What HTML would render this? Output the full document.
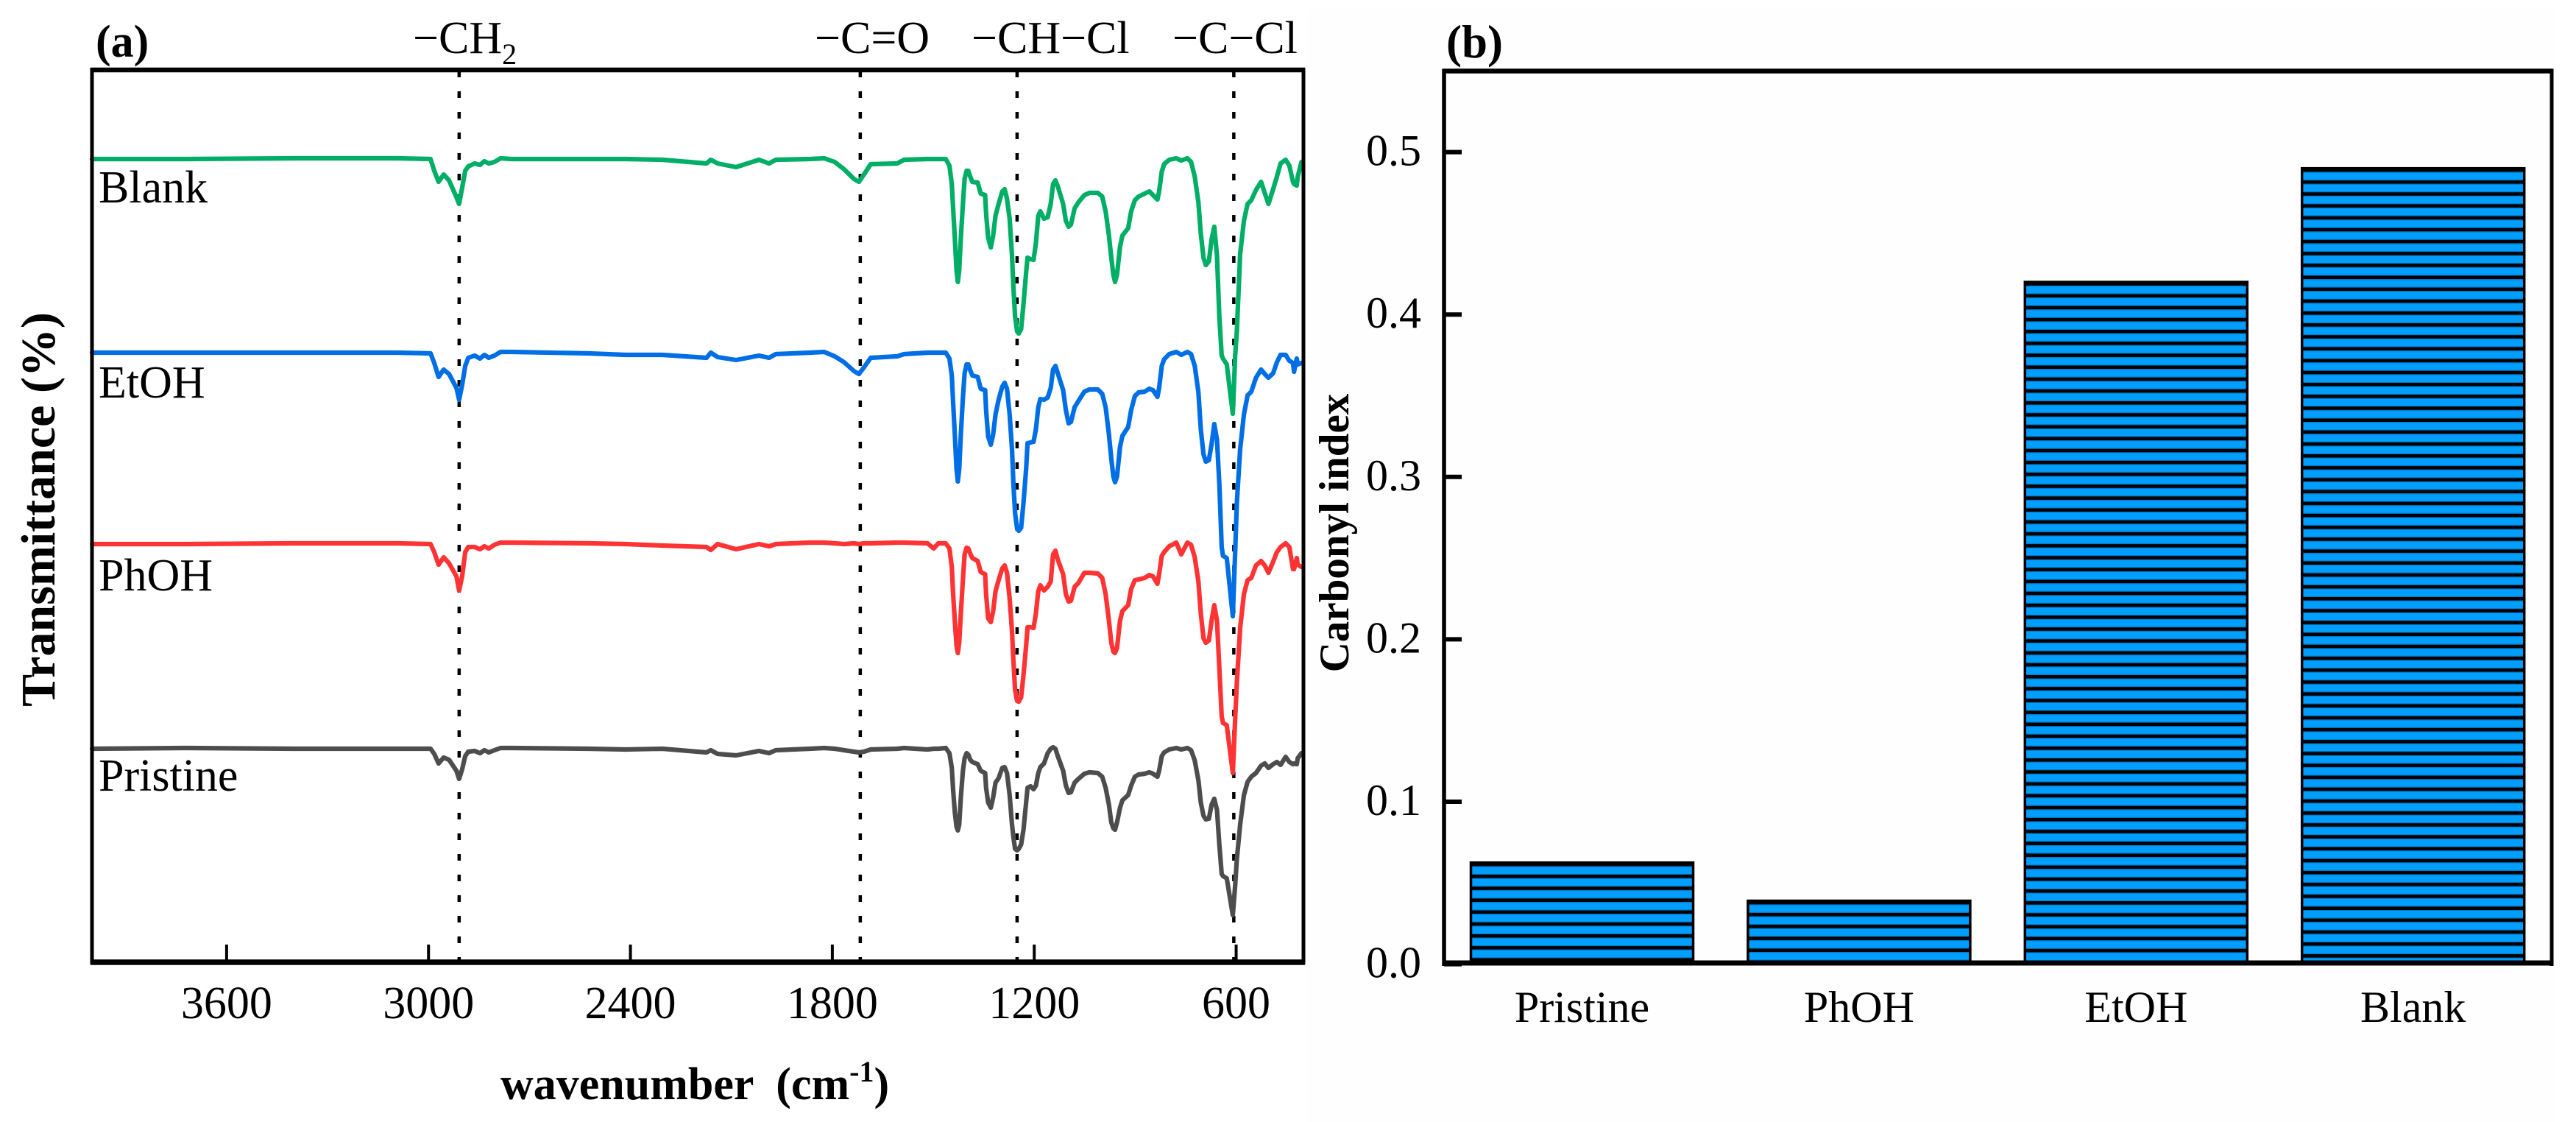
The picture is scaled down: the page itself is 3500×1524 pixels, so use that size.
<!DOCTYPE html>
<html lang="en">
<head>
<meta charset="utf-8">
<title>FTIR spectra and carbonyl index</title>
<style>
html,body{margin:0;padding:0;background:#fff;}
svg{display:block;}
text{font-family:"Liberation Serif","Times New Roman",serif;fill:#000;}
.b{font-weight:bold;}
</style>
</head>
<body>
<svg id="figure" xmlns="http://www.w3.org/2000/svg" width="3500" height="1524" viewBox="0 0 3500 1524">
  <rect x="0" y="0" width="3500" height="1524" fill="#ffffff"/>
  <rect x="1776" y="12" width="1696" height="1512" fill="#fefefe"/>
  <g id="panelA"></g>
  <g id="panelB"></g>

  <text class="b" x="130" y="77" font-size="62">(a)</text>
  <text class="b" x="1965" y="78" font-size="63">(b)</text>

  <text x="561" y="72" font-size="62">−CH<tspan font-size="40" dy="15">2</tspan></text>
  <text x="1107" y="72" font-size="62">−C=O</text>
  <text x="1320" y="72" font-size="62">−CH−Cl</text>
  <text x="1593" y="72" font-size="62">−C−Cl</text>

  <text x="134" y="275" font-size="62">Blank</text>
  <text x="134" y="540" font-size="62">EtOH</text>
  <text x="134" y="802" font-size="62">PhOH</text>
  <text x="134" y="1074" font-size="62">Pristine</text>

  <text class="b" x="680" y="1493" font-size="62" xml:space="preserve">wavenumber  (cm<tspan font-size="40" dy="-24">-1</tspan><tspan dy="24">)</tspan></text>
  <text class="b" text-anchor="middle" font-size="66" transform="translate(74,692) rotate(-90)">Transmittance (%)</text>
  <text class="b" text-anchor="middle" font-size="57" transform="translate(1832,724) rotate(-90)">Carbonyl index</text>
</svg>
<script>
const wavenumbers = [
4000,3727,3399,3092,2994,2983,2970,2955,2939,2917,2909,2900,2891,2882,2863,2847,2834,2821,2804,2786,2753,
2524,2414,2305,2174,2161,2141,2086,2018,1988,1968,1867,1824,1793,1765,1736,1721,1706,1686,1607,1587,
1517,1499,1485,1463,1452,1445,1441,1436,1431,1427,
1423,1418,1412,1407,1401,1396,1390,1384,1368,1359,
1346,1343,1337,1329,1322,1315,1306,1295,1288,1281,
1273,1266,1262,1257,1251,1246,1239,1232,1224,1220,
1211,1202,1195,1188,1182,1171,1160,1151,1144,1137,
1130,1114,1106,1098,1091,1080,1069,1051,1036,1011,
998,988,978,971,965,960,954,945,938,921,
912,901,890,872,858,847,834,829,821,814,
799,778,763,745,734,723,712,705,697,690,
681,673,665,657,650,643,639,628,610,603,
598,588,577,566,555,541,526,515,504,490,
479,468,453,442,431,428,420,417,406];

const blankValues = [
1091,1091,1092,1092,1091,1075,1060,1070,1062,1039,1030,1052,1075,1081,1085,1083,1088,1085,1087,1092,1091,
1091,1091,1090,1085,1090,1085,1080,1090,1085,1090,1091,1092,1087,1077,1064,1060,1070,1084,1085,1090,
1091,1091,1091,1091,1082,1057,1024,984,940,924,
940,984,1030,1064,1075,1075,1067,1060,1059,1044,
1042,1017,984,971,987,1014,1030,1047,1050,1037,
1010,960,917,877,857,854,860,894,937,957,
955,954,977,1014,1020,1010,1012,1030,1057,1062,
1054,1030,1007,999,1002,1024,1032,1042,1045,1045,
1040,1020,987,957,934,924,934,972,987,997,
1020,1035,1040,1044,1047,1042,1036,1047,1074,1084,
1090,1092,1089,1092,1087,1067,1032,990,957,947,
952,982,999,960,877,824,820,812,745,824,
857,962,1007,1030,1035,1049,1060,1045,1030,1050,
1067,1085,1090,1082,1060,1057,1055,1067,1087];

const etohValues = [
828,828,828,828,827,814,795,805,799,780,764,784,810,821,824,820,825,821,824,829,829,
827,825,825,821,828,822,818,824,821,826,828,829,823,815,803,799,808,821,823,826,
828,828,828,828,820,797,760,717,670,653,
670,717,767,800,812,812,804,797,795,779,
777,750,714,703,717,744,764,782,787,779,
744,697,650,610,589,586,590,624,670,705,
706,707,724,754,765,764,767,780,805,810,
800,777,750,732,734,754,762,775,778,778,
772,754,717,684,660,652,660,700,715,727,
750,769,774,775,779,777,768,780,810,819,
826,829,825,829,826,810,774,724,690,680,
682,704,731,710,650,564,552,549,470,557,
624,697,744,770,775,794,805,799,794,800,
815,825,825,817,814,802,820,812,814];

const phohValues = [
568,568,569,569,568,557,540,550,542,524,505,524,557,564,564,561,565,562,567,570,570,
569,568,566,564,560,568,561,568,565,568,570,570,569,568,569,568,569,569,570,570,
569,562,569,569,562,537,500,464,430,420,
434,474,520,554,563,562,555,549,545,530,
527,500,467,462,477,504,519,535,539,529,
494,450,410,370,355,354,360,390,430,455,
455,454,474,504,512,505,510,517,554,559,
547,527,500,490,491,510,515,529,529,528,
522,500,464,434,422,420,427,464,477,485,
507,519,520,522,526,524,514,527,552,557,
565,570,554,570,567,550,517,474,440,434,
437,464,485,464,400,334,325,322,257,330,
380,454,500,519,522,539,545,539,529,544,
557,564,569,564,534,534,549,540,537];

const pristineValues = [
290,291,290,290,290,283,270,278,275,260,249,262,280,286,287,284,288,285,288,291,291,
290,289,290,285,288,283,281,287,284,288,290,291,290,288,286,285,286,289,290,291,
289,290,290,291,284,264,234,204,184,179,
187,224,260,277,284,282,275,272,269,260,
257,237,217,210,224,244,250,264,265,257,
227,187,170,154,152,154,160,180,217,237,
239,235,240,257,265,270,284,290,292,290,
280,260,240,230,231,244,249,256,258,257,
252,237,214,190,182,180,190,210,220,227,
240,252,255,256,258,256,252,260,280,285,
289,291,289,291,288,274,247,217,199,194,
195,214,222,207,160,120,117,114,64,104,
140,187,227,245,252,257,267,270,264,269,
272,268,279,272,269,270,269,277,284];

const spectrumNames = ['pristine','phoh','etoh','blank'];
const spectrumColors = ['#4d4d4d','#ff3333','#006fe6','#00ae66'];
const wavenumberTicks = [3600,3000,2400,1800,1200,600];
const bandCenters = [2909,1717,1251,607];

const barCategories = ['Pristine','PhOH','EtOH','Blank'];
const carbonylIndex = [0.0625,0.039,0.42,0.49];
const indexTicks = [0.0,0.1,0.2,0.3,0.4,0.5];

const NS = 'http://www.w3.org/2000/svg';
const panelA = document.getElementById('panelA');
const panelB = document.getElementById('panelB');

function make(tag, parent, attrs) {
  const el = document.createElementNS(NS, tag);
  for (const k in attrs) el.setAttribute(k, attrs[k]);
  parent.appendChild(el);
  return el;
}

/* panel A axes */
const A = {left:125, right:1771, top:95, bottom:1307};
function xA(w) { return A.left + (4000 - w) / 3600 * (A.right - A.left); }
function yA(v) { return A.bottom - v / 1212 * (A.bottom - A.top); }

bandCenters.forEach(function (w, i) {
  const line = make('line', panelA, {x1:xA(w), x2:xA(w), y1:A.top + 1, y2:A.bottom - 3, stroke:'#000', 'stroke-width':4.5, 'stroke-dasharray':'9 19', 'stroke-dashoffset':'0'});
  
  
});

const spectrumData = [pristineValues, phohValues, etohValues, blankValues];
spectrumData.forEach(function (values, s) {
  const pts = values.map(function (v, i) { return xA(wavenumbers[i]).toFixed(1) + ',' + yA(v).toFixed(1); }).join(' ');
  const line = make('polyline', panelA, {points:pts, fill:'none', stroke:spectrumColors[s], 'stroke-width':6.2, 'stroke-linejoin':'round', 'stroke-linecap':'round'});
  
  
});

wavenumberTicks.forEach(function (w) {
  const tick = make('line', panelA, {x1:xA(w), x2:xA(w), y1:A.bottom - 24, y2:A.bottom, stroke:'#000', 'stroke-width':4});
  
  
  const label = make('text', panelA, {x:xA(w), y:1383, 'text-anchor':'middle', 'font-size':62});
  label.textContent = String(w);
  
  
});

const frameA = [
  [A.left, A.top - 3, A.left, A.bottom + 3, 5],
  [A.right, A.top - 3, A.right, A.bottom + 3, 5],
  [A.left - 2, A.top, A.right + 2, A.top, 6.5],
  [A.left - 2, A.bottom, A.right + 2, A.bottom, 7.5]
];
frameA.forEach(function (f, i) {
  const side = make('line', panelA, {x1:f[0], y1:f[1], x2:f[2], y2:f[3], stroke:'#000', 'stroke-width':f[4]});
  
  
});

/* panel B axes */
const B = {left:1962, right:3467, top:96.5, bottom:1308};
const barWidth = 302;
const barStep = 376.4;
const firstBarLeft = 1998.5;
function yB(v) { return 1309.6 - v * 2206; }
function xB(i) { return firstBarLeft + i * barStep; }

carbonylIndex.forEach(function (v, i) {
  const top = yB(v);
  const left = xB(i);
  const group = make('g', panelB, {});
  
  
  make('rect', group, {x:left, y:top, width:barWidth, height:B.bottom - top, fill:'#009eff'});
  for (let y = top + 2.5; y < B.bottom - 1; y += 16.17) {
    make('line', group, {x1:left, x2:left + barWidth, y1:y, y2:y, stroke:'#0077c8', 'stroke-width':7});
    make('line', group, {x1:left, x2:left + barWidth, y1:y, y2:y, stroke:'#000', 'stroke-width':4.5});
  }
  make('rect', group, {x:left, y:top, width:barWidth, height:B.bottom - top, fill:'none', stroke:'#000', 'stroke-width':3.5});
  const label = make('text', panelB, {x:left + barWidth / 2, y:1388, 'text-anchor':'middle', 'font-size':60});
  label.textContent = barCategories[i];
  
  
});

indexTicks.forEach(function (v) {
  const tick = make('line', panelB, {x1:B.left, x2:B.left + 24, y1:yB(v), y2:yB(v), stroke:'#000', 'stroke-width':6});
  
  
  const label = make('text', panelB, {x:1931, y:yB(v) + 18, 'text-anchor':'end', 'font-size':60});
  label.textContent = v.toFixed(1);
  
  
});

const frameB = [
  [B.left, B.top - 3, B.left, B.bottom + 4, 5.5],
  [B.right, B.top - 3, B.right, B.bottom + 4, 5],
  [B.left - 2, B.top, B.right + 2, B.top, 6.5],
  [B.left - 2, B.bottom, B.right + 2, B.bottom, 7]
];
frameB.forEach(function (f, i) {
  const side = make('line', panelB, {x1:f[0], y1:f[1], x2:f[2], y2:f[3], stroke:'#000', 'stroke-width':f[4]});
  
  
});
</script>
</body>
</html>
